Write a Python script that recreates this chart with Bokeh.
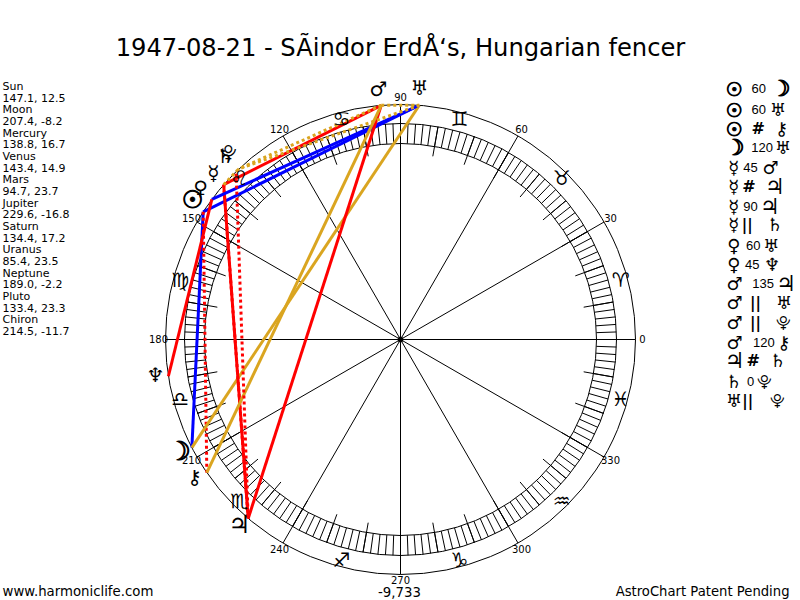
import math
from bokeh.plotting import figure
from bokeh.models import Range1d
from bokeh.core.properties import value
from bokeh.embed import file_html
from bokeh.resources import INLINE

# ---- data -------------------------------------------------------------
TITLE = "1947-08-21 - S\u00c3indor Erd\u00c5\u2018s, Hungarian fencer"
bodies = ["Sun", "Moon", "Mercury", "Venus", "Mars", "Jupiter", "Saturn", "Uranus", "Neptune", "Pluto", "Chiron"]
longitudes = [147.1, 207.4, 138.8, 143.4, 94.7, 229.6, 134.4, 85.4, 189.0, 133.4, 214.5]
latitudes = [12.5, -8.2, 16.7, 14.9, 23.7, -16.8, 17.2, 23.5, -2.2, 23.3, -11.7]
symbols = ["\u2609", "\u263d", "\u263f", "\u2640", "\u2642", "\u2643", "\u2644", "\u2645", "\u2646", "\u2bd3", "\u26b7"]
aspect_a = ["Sun", "Sun", "Sun", "Moon", "Mercury", "Mercury", "Mercury", "Mercury", "Venus", "Venus",
            "Mars", "Mars", "Mars", "Mars", "Jupiter", "Saturn", "Uranus"]
aspect_kind = ["60", "60", "#", "120", "45", "#", "90", "||", "60", "45", "135", "||", "||", "120", "#", "0", "||"]
aspect_b = ["Moon", "Uranus", "Chiron", "Uranus", "Mars", "Jupiter", "Jupiter", "Saturn", "Uranus", "Neptune",
            "Jupiter", "Uranus", "Pluto", "Chiron", "Saturn", "Pluto", "Pluto"]
sign_symbols = ["\u2648", "\u2649", "\u264a", "\u264b", "\u264c", "\u264d", "\u264e", "\u264f", "\u2650", "\u2651", "\u2652", "\u2653"]
degree_labels = [0, 30, 60, 90, 120, 150, 180, 210, 240, 270, 300, 330]
footer_left = "www.harmoniclife.com"
footer_mid = "-9,733"
footer_right = "AstroChart Patent Pending"

# ---- style / layout -----------------------------------------------------
W, H = 800, 600
CX, CY, R_OUT, R_RING_O, R_RING_I, R_TICK, R_SIGN = 400, 339, 235, 216, 196, 186, 228
FONT = "DejaVu Sans"
kind_style = {"60": ("#0000ff", "solid"), "120": ("#daa520", "solid"), "45": ("#ff0000", "solid"),
              "90": ("#ff0000", "solid"), "135": ("#ff0000", "solid"), "0": ("#daa520", "solid"),
              "||": ("#daa520", "3 3"), "#": ("#ff0000", "3 3")}
label_pos = {0: (642, 338), 30: (610, 217), 60: (521, 128), 90: (400, 96), 120: (279, 128), 150: (191, 217),
             180: (158, 338), 210: (191, 459), 240: (279, 548), 270: (400, 579), 300: (521, 548), 330: (610, 459)}
planet_pos = {"Sun": (192, 199), "Moon": (179, 450), "Mercury": (213, 172), "Venus": (200, 187), "Mars": (378, 88),
              "Jupiter": (239, 524), "Saturn": (225, 155), "Uranus": (419, 87), "Neptune": (155, 374), "Pluto": (228, 152),
              "Chiron": (194, 476)}
chart_size = {"Sun": 24, "Moon": 26, "Jupiter": 25, "Pluto": 17}
table_size = {"Sun": 19, "Moon": 22, "Jupiter": 22, "Pluto": 15}
heavy = ("Sun", "Moon")
row_y = [88, 109, 128, 147, 167, 186, 206, 224, 245, 264, 283, 302, 322, 342, 360, 381, 400]
col_a = [42, 42, 42, 42, 40, 40, 40, 40, 40, 40, 42, 42, 42, 42, 42, 40, 40]
col_k = [115, 115, 113, 125, 90, 85, 90, 80, 98, 95, 128, 105, 105, 130, 98, 90, 82]
col_b = [180, 172, 183, 187, 150, 163, 148, 163, 152, 155, 197, 190, 190, 190, 172, 133, 172]

def pol(deg, r):
    a = math.radians(deg)
    return CX + r * math.cos(a), CY - r * math.sin(a)

p = figure(width=W, height=H, output_backend="svg", toolbar_location=None,
           x_range=Range1d(0, W), y_range=Range1d(H, 0), min_border=0)
p.axis.visible = False
p.grid.visible = False
p.outline_line_color = None

# circles
for r in (R_OUT, R_RING_O, R_RING_I):
    p.circle([CX], [CY], radius=r, fill_color=None, line_color="black", line_width=1)
p.scatter([CX], [CY], size=5, color="black")

# spokes & ticks
for d in range(0, 360, 30):
    x2, y2 = pol(d, R_OUT)
    p.line([CX, x2], [CY, y2], color="black", line_width=1)
for d in range(0, 360, 10):
    x1, y1 = pol(d, R_TICK); x2, y2 = pol(d, R_RING_O)
    p.line([x1, x2], [y1, y2], color="black", line_width=1)
xs, ys = [], []
for d in range(0, 360, 2):
    x1, y1 = pol(d, R_RING_I); x2, y2 = pol(d, R_RING_O)
    xs.append([x1, x2]); ys.append([y1, y2])
p.multi_line(xs, ys, color="black", line_width=1)

# aspects
lon = dict(zip(bodies, longitudes))
for a, k, b in zip(aspect_a, aspect_kind, aspect_b):
    col, dash = kind_style[k]
    x1, y1 = pol(lon[a], R_OUT); x2, y2 = pol(lon[b], R_OUT)
    p.line([x1, x2], [y1, y2], color=col, line_width=3, line_dash=dash)

def txt(x, y, s, size, align="left", color="black", font=FONT, style="normal", outline=None):
    p.text([x], [y], text=[s], text_font=value(font), text_font_size=f"{size}px",
           text_align=align, text_baseline="middle", text_color=color, text_font_style=style,
           text_outline_color=outline)

txt(400, 47, TITLE, 24.2, "center")

for d in degree_labels:
    x, y = label_pos[d]
    txt(x, y, str(d), 10, "center")

for i, s in enumerate(sign_symbols):
    x, y = pol(15 + 30 * i, R_SIGN)
    txt(x, y, s, 20, "center")

for b, s in zip(bodies, symbols):
    x, y = planet_pos[b]
    txt(x, y, s, chart_size.get(b, 20), "center", outline="black" if b in heavy else None)

y = 86
for b, l, la in zip(bodies, longitudes, latitudes):
    txt(2, y, b, 11); y += 11.67
    txt(2, y, f"{l:.1f}, {la:.1f}", 11); y += 11.67

sym = dict(zip(bodies, symbols))
for a, k, b, y, xa, xk, xb in zip(aspect_a, aspect_kind, aspect_b, row_y, col_a, col_k, col_b):
    txt(720 + xa / 3, y, sym[a], table_size.get(a, 18), "center", outline="black" if a in heavy else None)
    if k == "||":
        txt(720 + xk / 3, y, "||", 15, "center", style="bold")
    elif k == "#":
        txt(720 + xk / 3, y, "#", 16, "center", style="bold")
    else:
        txt(720 + xk / 3, y, k, 13, "center", font="Liberation Sans")
    txt(720 + xb / 3, y, sym[b], table_size.get(b, 18), "center", outline="black" if b in heavy else None)

txt(2, 591, footer_left, 13.3)
txt(399, 591, footer_mid, 13.3, "center")
txt(789, 591, footer_right, 13.2, "right")

open("out.html", "w").write(file_html(p, INLINE))
